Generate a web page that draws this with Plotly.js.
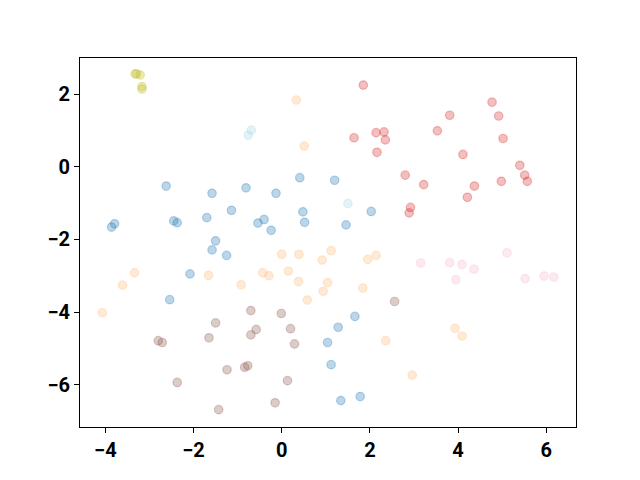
<!DOCTYPE html>
<html><head><meta charset="utf-8">
<script src="https://cdn.plot.ly/plotly-3.0.1.min.js"></script>
<style>body{margin:0;padding:0;background:#fff}#chart{width:640px;height:480px}</style>
</head><body><div id="chart"></div>
<script>
const blueX = [-2.62,-1.58,-0.81,-0.13,0.41,-1.14,-1.70,-0.54,-0.40,-0.24,0.48,0.52,-3.86,-3.79,-2.45,-2.37,-1.50,-1.58,-1.25,-2.08,-2.54,1.04,1.12,1.20,2.03,1.46,1.66,1.28,1.34,1.78];
const blueY = [-0.53,-0.73,-0.58,-0.73,-0.30,-1.20,-1.40,-1.55,-1.45,-1.75,-1.24,-1.53,-1.66,-1.57,-1.49,-1.54,-2.04,-2.29,-2.44,-2.95,-3.66,-4.84,-5.45,-0.37,-1.23,-1.60,-4.12,-4.42,-6.44,-6.33];
const orangeX = [0.33,0.51,-3.34,-3.61,-4.07,-1.66,-0.92,-0.43,-0.29,0.00,0.39,0.15,0.38,0.58,0.92,1.12,1.04,0.94,1.95,2.14,1.84,2.36,2.96,3.93,4.09];
const orangeY = [1.84,0.57,-2.92,-3.26,-4.02,-2.99,-3.25,-2.92,-3.00,-2.41,-2.41,-2.87,-3.16,-3.67,-2.57,-2.31,-3.19,-3.43,-2.55,-2.44,-3.34,-4.79,-5.74,-4.45,-4.66];
const redX = [1.85,1.64,2.14,2.32,2.35,2.16,2.80,3.22,2.92,2.89,3.53,3.81,4.11,4.37,4.21,4.77,4.92,5.02,4.98,5.40,5.51,5.57];
const redY = [2.25,0.80,0.94,0.96,0.74,0.40,-0.23,-0.49,-1.12,-1.27,0.99,1.42,0.34,-0.53,-0.84,1.78,1.40,0.78,-0.40,0.04,-0.23,-0.40];
const brownX = [-0.70,-1.50,-0.58,-0.70,-1.65,-2.80,-2.71,-0.01,0.20,0.29,-1.24,-0.84,-0.77,-2.37,0.13,-0.15,-1.43,2.56];
const brownY = [-3.96,-4.30,-4.48,-4.63,-4.71,-4.79,-4.84,-4.04,-4.46,-4.88,-5.59,-5.52,-5.48,-5.94,-5.89,-6.50,-6.69,-3.71];
const pinkX = [3.15,3.81,4.09,4.36,3.95,5.11,5.52,5.95,6.17];
const pinkY = [-2.65,-2.64,-2.69,-2.82,-3.11,-2.37,-3.08,-3.01,-3.04];
const oliveX = [-3.33,-3.29,-3.21,-3.17,-3.17];
const oliveY = [2.56,2.56,2.53,2.21,2.14];
const cyanX = [-0.69,-0.76,1.50];
const cyanY = [1.01,0.87,-1.01];

const groups = [
  [blueX, blueY, '31,119,180'],
  [orangeX, orangeY, '255,187,120'],
  [redX, redY, '214,39,40'],
  [brownX, brownY, '140,86,75'],
  [pinkX, pinkY, '247,182,210'],
  [oliveX, oliveY, '188,189,34'],
  [cyanX, cyanY, '158,218,229']
];
const traces = groups.map(g => ({
  x: g[0], y: g[1], type: 'scatter', mode: 'markers',
  marker: {size: 8.5, color: 'rgba(' + g[2] + ',0.3)', line: {color: 'rgba(' + g[2] + ',0.3)', width: 1.2}},
  hoverinfo: 'skip', showlegend: false
}));
const axisCommon = {
  showgrid: false, zeroline: false, showline: true, mirror: true,
  linecolor: '#000', linewidth: 1, ticks: 'outside', ticklen: 5, tickwidth: 1, tickcolor: '#000',
  dtick: 2, tickfont: {family: 'Roboto, sans-serif', size: 20, color: '#000', weight: 'bold'}
};
const layout = {
  width: 640, height: 480,
  margin: {l: 80, r: 64, t: 57.6, b: 52.8},
  paper_bgcolor: '#fff', plot_bgcolor: '#fff',
  xaxis: Object.assign({}, axisCommon, {range: [-4.575, 6.674], tick0: 0}),
  yaxis: Object.assign({}, axisCommon, {range: [-7.167, 2.997], tick0: 0}),
  showlegend: false
};
Plotly.newPlot('chart', traces, layout, {staticPlot: true, displayModeBar: false});
</script></body></html>
